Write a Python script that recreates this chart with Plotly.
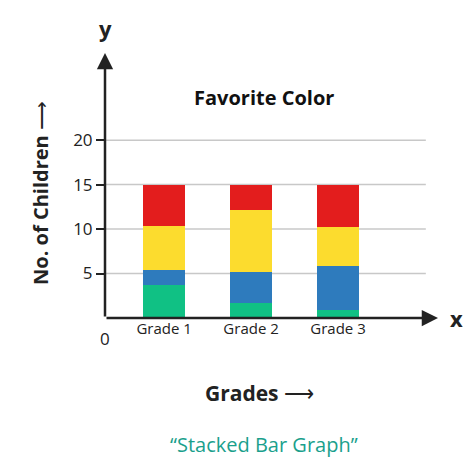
import plotly.graph_objects as go

grades = ["Grade 1", "Grade 2", "Grade 3"]
green = [3.7, 1.7, 0.9]
blue = [1.7, 3.5, 5.0]
yellow = [5.0, 6.9, 4.3]
red = [4.6, 2.9, 4.8]
y_ticks = [5, 10, 15, 20]

xpos = [1, 2, 3]
fig = go.Figure()
for vals, col in [(green, "#10c184"), (blue, "#2e7bbd"), (yellow, "#fcdc2e"), (red, "#e31d1d")]:
    fig.add_bar(x=xpos, y=vals, marker_color=col, marker_line_width=0, width=0.48)

font = "Open Sans, sans-serif"
# gridlines
for t in y_ticks:
    fig.add_shape(type="line", xref="x", yref="y", x0=0.32, x1=4.01, y0=t, y1=t,
                  line=dict(color="#c8c8c8", width=1.5), layer="below")
# axes with arrows
fig.add_annotation(x=4.15, y=0, ax=0.32, ay=0, xref="x", yref="y", axref="x", ayref="y",
                   showarrow=True, arrowhead=2, arrowsize=1.3, arrowwidth=2.5, arrowcolor="#222", text="")
fig.add_annotation(x=0.32, y=29.8, ax=0.32, ay=0, xref="x", yref="y", axref="x", ayref="y",
                   showarrow=True, arrowhead=2, arrowsize=1.3, arrowwidth=2.5, arrowcolor="#222", text="")

fig.update_layout(
    width=474, height=466, barmode="stack", showlegend=False,
    plot_bgcolor="white", paper_bgcolor="white",
    margin=dict(l=97, r=44, t=45, b=156),
    font=dict(family=font, color="#222"),
    xaxis=dict(range=[0.32, 4.15], tickvals=xpos, ticktext=grades, showgrid=False, automargin=False,
               zeroline=False, tickfont=dict(size=15), ticks=""),
    yaxis=dict(range=[0, 29.8], tickvals=y_ticks, showgrid=False, zeroline=False, automargin=False,
               ticks="outside", ticklen=8, tickwidth=2, tickcolor="#222",
               tickfont=dict(size=17)),
    annotations=list(fig.layout.annotations) + [
        dict(text="<b>y</b>", x=0.32, y=1.0, xref="x", yref="paper", yshift=8, showarrow=False,
             font=dict(size=22, family=font), yanchor="bottom"),
        dict(text="<b>x</b>", x=4.15, y=0, xref="x", yref="y", xshift=18, showarrow=False,
             font=dict(size=22, family=font)),
        dict(text="0", x=0.32, y=0, xref="x", yref="y", yshift=-20, showarrow=False,
             font=dict(size=17, family=font)),
        dict(text="<b>Favorite Color</b>", x=2.15, y=24.8, xref="x", yref="y", showarrow=False,
             font=dict(size=20, family=font, color="#111")),
        dict(text="<b>Grades</b> ⟶", x=2.1, y=0, xref="x", yref="y", yshift=-75, showarrow=False,
             font=dict(size=21, family=font)),
        dict(text="“Stacked Bar Graph”", x=2.15, y=0, xref="x", yref="y", yshift=-126, showarrow=False,
             font=dict(size=20, family=font, color="#1aa08c")),
        dict(text="<b>No. of Children</b> ⟶", x=0, y=0.47, xref="paper", yref="paper", xshift=-80,
             textangle=-90, showarrow=False, font=dict(size=20, family=font)),
    ],
)
fig.write_html("out.html")
